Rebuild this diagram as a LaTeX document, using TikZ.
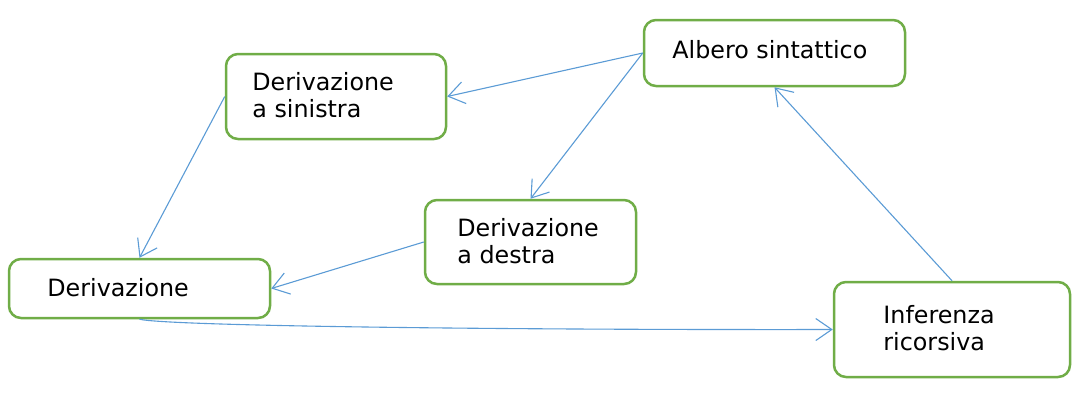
\documentclass[tikz,border=0pt]{standalone}
\usepackage{fontspec}
\setmainfont{DejaVu Sans}
\usetikzlibrary{arrows.meta}
\definecolor{boxgreen}{HTML}{70AD47}
\definecolor{edgeblue}{HTML}{5B9BD5}
\tikzset{
  box/.style={draw=boxgreen, line width=1.25pt, rounded corners=6pt, fill=white, inner sep=0pt},
  lbl/.style={anchor=west, align=left, inner sep=0pt, font=\fontsize{11.9}{13.6}\selectfont},
  edge/.style={draw=edgeblue, line width=0.55pt, -{Straight Barb[length=8pt,width=11pt]}}
}
\begin{document}
\begin{tikzpicture}[x=0.5pt,y=-0.5pt]
\useasboundingbox (0,0) rectangle (1080,414);
\node[box, minimum width=130.5pt, minimum height=33pt] (albero) at (774.5,53) {};
\node[box, minimum width=110pt, minimum height=42.5pt] (sin) at (336,96.5) {};
\node[box, minimum width=105.5pt, minimum height=42pt] (des) at (530.5,242) {};
\node[box, minimum width=130.5pt, minimum height=29.5pt] (der) at (139.5,288.5) {};
\node[box, minimum width=118pt, minimum height=47.5pt] (inf) at (952,329.5) {};
\node[lbl] (talbero) at (672,50) {Albero sintattico};
\node[lbl] (tsin) at (252,95) {Derivazione\\a sinistra};
\node[lbl] (tdes) at (457,241) {Derivazione\\a destra};
\node[lbl] (tder) at (47,288) {Derivazione};
\node[lbl] (tinf) at (883,328) {Inferenza\\ricorsiva};
\draw[edge] (albero.west) -- (sin.east);
\draw[edge] (albero.west) -- (des.north);
\draw[edge] (sin.west) -- (der.north);
\draw[edge] (des.west) -- (der.east);
\draw[edge] (der.south) .. controls (170,326) and (500,330) .. (inf.west);
\draw[edge] (inf.north) -- (albero.south);
\end{tikzpicture}
\end{document}
